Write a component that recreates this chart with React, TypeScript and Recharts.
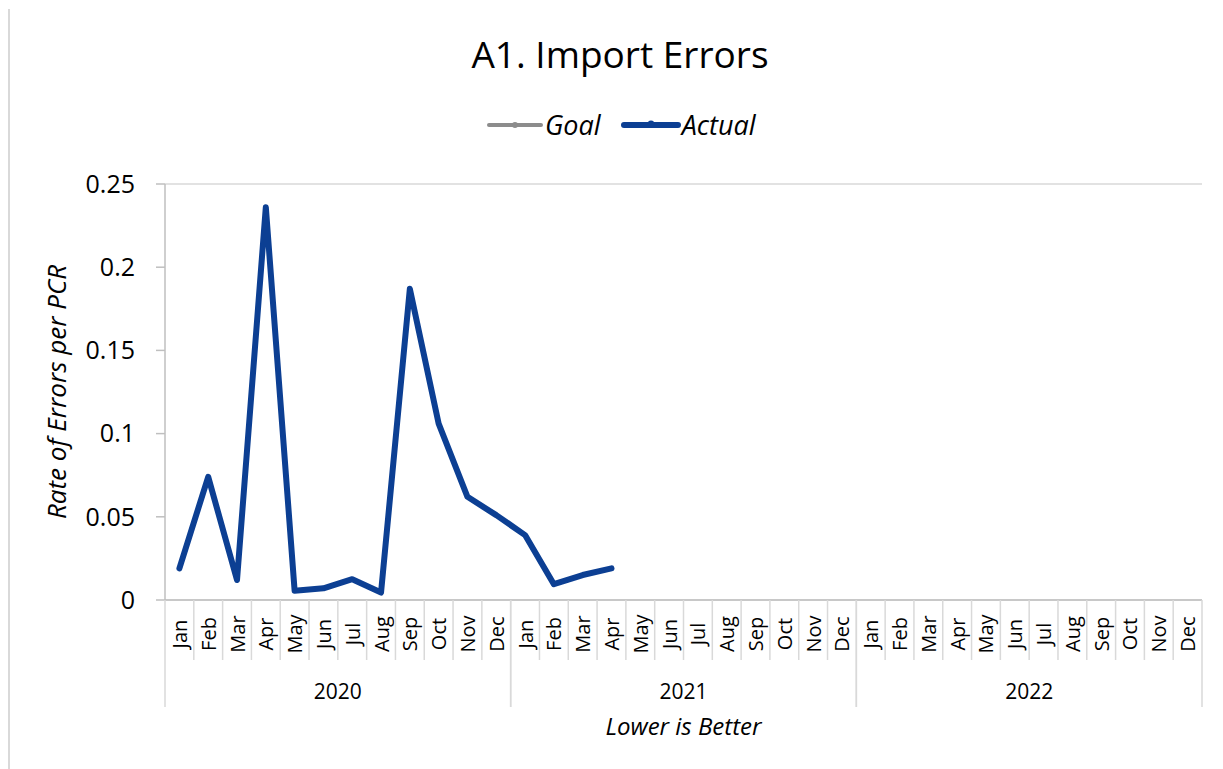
import { LineChart, Line, XAxis, YAxis, CartesianGrid } from 'recharts';

const years = ['2020', '2021', '2022'];
const months = ['Jan', 'Feb', 'Mar', 'Apr', 'May', 'Jun', 'Jul', 'Aug', 'Sep', 'Oct', 'Nov', 'Dec'];

// Actual rate by month, Jan 2020 onwards (later months not reported yet)
const actual = [
  0.019, 0.074, 0.012, 0.236, 0.0056, 0.007, 0.0125, 0.0045, 0.187, 0.106, 0.062, 0.051,
  0.039, 0.0095, 0.015, 0.019,
];
// Goal has no values in the source
const goal: (number | null)[] = [];

const yTicks = [0, 0.05, 0.1, 0.15, 0.2, 0.25];

const data = years.flatMap((year, yi) =>
  months.map((month, mi) => {
    const i = yi * 12 + mi;
    return {
      key: `${year}-${month}`,
      year,
      month,
      mi,
      actual: i < actual.length ? actual[i] : null,
      goal: i < goal.length ? goal[i] : null,
    };
  })
);

const W = 1223;
const H = 769;
const PLOT_LEFT = 165;
const PLOT_RIGHT = 1202;
const PLOT_TOP = 184;
const AXIS_Y = 600;
const BAND = (PLOT_RIGHT - PLOT_LEFT) / data.length;
const GRID = '#d9d9d9';
const AXIS = '#bfbfbf';
const BLUE = '#0c3f93';
const FONT = '"Open Sans", "Noto Sans", sans-serif';

function MonthTick(props: any) {
  const { x, payload } = props;
  const row = data[payload.index];
  const left = x - BAND / 2;
  const right = x + BAND / 2;
  const tx = x + 7.5;
  return (
    <g>
      <line x1={left} y1={AXIS_Y} x2={left} y2={row.mi === 0 ? 707 : 660} stroke={GRID} strokeWidth={1.5} />
      {row.mi === 11 && (
        <line x1={right} y1={AXIS_Y} x2={right} y2={707} stroke={GRID} strokeWidth={1.5} />
      )}
      <text
        x={tx}
        y={634}
        transform={`rotate(-90 ${tx} 634)`}
        textAnchor="middle"
        fontSize={20}
        fontFamily={FONT}
        fill="#000"
      >
        {row.month}
      </text>
      {row.mi === 5 && (
        <text x={right} y={699} textAnchor="middle" fontSize={21} fontFamily={FONT} fill="#000">
          {row.year}
        </text>
      )}
    </g>
  );
}

export default function App() {
  return (
    <div style={{ position: 'relative', width: W, height: H, background: '#fff', fontFamily: FONT }}>
      <style>{`body{margin:0}`}</style>
      <div style={{ position: 'absolute', left: 8, top: 9, bottom: 0, borderLeft: `2px solid ${GRID}` }} />
      <div
        style={{
          position: 'absolute',
          left: 0,
          width: 1240,
          top: 32,
          textAlign: 'center',
          fontSize: 37,
          lineHeight: '44px',
          color: '#000',
        }}
      >
        A1. Import Errors
      </div>
      <div
        style={{
          position: 'absolute',
          left: 486,
          top: 107,
          display: 'flex',
          alignItems: 'center',
          fontSize: 27,
          lineHeight: '36px',
          fontStyle: 'italic',
          color: '#000',
        }}
      >
        <svg width={58} height={12}>
          <line x1={3} y1={6} x2={55} y2={6} stroke="#8c8c8c" strokeWidth={4} strokeLinecap="round" />
          <circle cx={29} cy={6} r={3} fill="#8c8c8c" />
        </svg>
        <span style={{ marginRight: 20, marginLeft: 1 }}>Goal</span>
        <svg width={60} height={12}>
          <line x1={3} y1={6} x2={57} y2={6} stroke={BLUE} strokeWidth={6} strokeLinecap="round" />
          <circle cx={30} cy={5} r={3.5} fill={BLUE} />
        </svg>
        <span style={{ marginLeft: 1 }}>Actual</span>
      </div>
      <div
        style={{
          position: 'absolute',
          left: PLOT_LEFT,
          width: PLOT_RIGHT - PLOT_LEFT,
          top: 710,
          textAlign: 'center',
          fontSize: 24,
          lineHeight: '32px',
          fontStyle: 'italic',
          color: '#000',
        }}
      >
        Lower is Better
      </div>
      <div style={{ position: 'absolute', left: 0, top: 0 }}>
        <LineChart
          width={W}
          height={H}
          data={data}
          margin={{ top: PLOT_TOP, right: W - PLOT_RIGHT, bottom: H - AXIS_Y - 120, left: 0 }}
        >
          <CartesianGrid horizontal vertical={false} stroke={GRID} strokeWidth={1.5} />
          <XAxis
            dataKey="key"
            interval={0}
            height={120}
            tick={<MonthTick />}
            tickLine={false}
            axisLine={{ stroke: AXIS, strokeWidth: 1.5 }}
            padding={{ left: BAND / 2, right: BAND / 2 }}
          />
          <YAxis
            yAxisId="left"
            width={PLOT_LEFT}
            domain={[0, 0.25]}
            ticks={yTicks}
            tickSize={9}
            tickMargin={21}
            tick={{ fill: '#000', fontSize: 25, fontFamily: FONT }}
            tickLine={{ stroke: AXIS, strokeWidth: 1.5 }}
            axisLine={{ stroke: AXIS, strokeWidth: 1.5 }}
            label={{
              value: 'Rate of Errors per PCR',
              angle: -90,
              position: 'insideLeft',
              dx: 52,
              dy: 0,
              style: { textAnchor: 'middle', fontSize: 26, fontStyle: 'italic', fill: '#000', fontFamily: FONT },
            }}
          />
          <YAxis
            yAxisId="right"
            orientation="right"
            width={0}
            domain={[0, 0.25]}
            tick={false}
            tickLine={false}
            axisLine={{ stroke: AXIS, strokeWidth: 1.5 }}
          />
          <Line
            yAxisId="left"
            dataKey="goal"
            stroke="#8c8c8c"
            strokeWidth={4}
            dot={false}
            isAnimationActive={false}
          />
          <Line
            yAxisId="left"
            dataKey="actual"
            stroke={BLUE}
            strokeWidth={6}
            strokeLinejoin="round"
            strokeLinecap="round"
            dot={false}
            connectNulls={false}
            isAnimationActive={false}
          />
        </LineChart>
      </div>
    </div>
  );
}
